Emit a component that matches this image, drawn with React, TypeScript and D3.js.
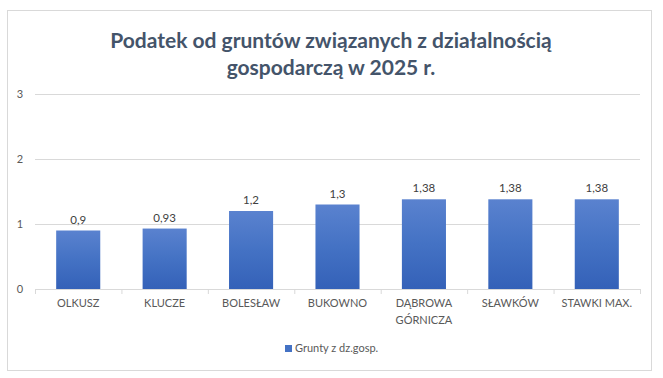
import React from "react";
import * as d3 from "d3";

const categories = ["OLKUSZ", "KLUCZE", "BOLESŁAW", "BUKOWNO", "DĄBROWA GÓRNICZA", "SŁAWKÓW", "STAWKI MAX."];
const categoryLines = [["OLKUSZ"], ["KLUCZE"], ["BOLESŁAW"], ["BUKOWNO"], ["DĄBROWA", "GÓRNICZA"], ["SŁAWKÓW"], ["STAWKI MAX."]];
const values = [0.9, 0.93, 1.2, 1.3, 1.38, 1.38, 1.38];
const valueLabels = ["0,9", "0,93", "1,2", "1,3", "1,38", "1,38", "1,38"];
const yTicks = [0, 1, 2, 3];
const titleLines = ["Podatek od gruntów związanych z działalnością", "gospodarczą w 2025 r."];
const seriesName = "Grunty z dz.gosp.";

const W = 663, H = 378;
const FONT = "Lato, 'Open Sans', sans-serif";

export default function App() {
  const x = d3.scaleBand<string>().domain(categories).range([35, 640]).paddingInner(0.49).paddingOuter(0.245);
  const y = d3.scaleLinear().domain([0, 3]).range([289, 94]);
  const step = x.step();
  return (
    <svg width={W} height={H} style={{ position: "absolute", left: 0, top: 0 }}>
      <defs>
        <linearGradient id="barGrad" x1="0" y1="0" x2="0" y2="1">
          <stop offset="0" stopColor="#5a82cf" />
          <stop offset="0.5" stopColor="#4472c4" />
          <stop offset="1" stopColor="#3461b8" />
        </linearGradient>
      </defs>
      <rect x={0} y={0} width={W} height={H} fill="#fff" />
      <rect x={7.5} y={10.5} width={644} height={360} fill="#fff" stroke="#d9d9d9" strokeWidth={1} />
      {titleLines.map((t, i) => (
        <text key={i} x={331} y={48 + i * 27} textAnchor="middle" fontFamily={FONT} fontWeight={700} fontSize={21} fill="#44546a">{t}</text>
      ))}
      {yTicks.map((t) => (
        <g key={t}>
          {t > 0 && <line x1={35} x2={640} y1={y(t) + 0.5} y2={y(t) + 0.5} stroke="#d9d9d9" />}
          <text x={20} y={y(t) + 4} textAnchor="middle" fontFamily={FONT} fontSize={11} fill="#595959">{t}</text>
        </g>
      ))}
      <line x1={35} x2={640} y1={y(0) + 0.5} y2={y(0) + 0.5} stroke="#d9d9d9" />
      {d3.range(categories.length + 1).map((i) => (
        <line key={i} x1={35 + i * step + 0.5} x2={35 + i * step + 0.5} y1={y(0)} y2={y(0) + 5} stroke="#d9d9d9" />
      ))}
      {categories.map((c, i) => (
        <g key={c}>
          <rect x={x(c)} y={y(values[i])} width={x.bandwidth()} height={y(0) - y(values[i])} fill="url(#barGrad)" />
          <text x={(x(c) as number) + x.bandwidth() / 2} y={y(values[i]) - 7} textAnchor="middle" fontFamily={FONT} fontSize={11.5} fill="#404040">{valueLabels[i]}</text>
          {categoryLines[i].map((ln, j) => (
            <text key={j} x={(x(c) as number) + x.bandwidth() / 2} y={307 + j * 17} textAnchor="middle" fontFamily={FONT} fontSize={11} fill="#595959">{ln}</text>
          ))}
        </g>
      ))}
      <rect x={285} y={345} width={7} height={7} fill="#4472c4" />
      <text x={295} y={352} fontFamily={FONT} fontSize={11} fill="#595959">{seriesName}</text>
    </svg>
  );
}
